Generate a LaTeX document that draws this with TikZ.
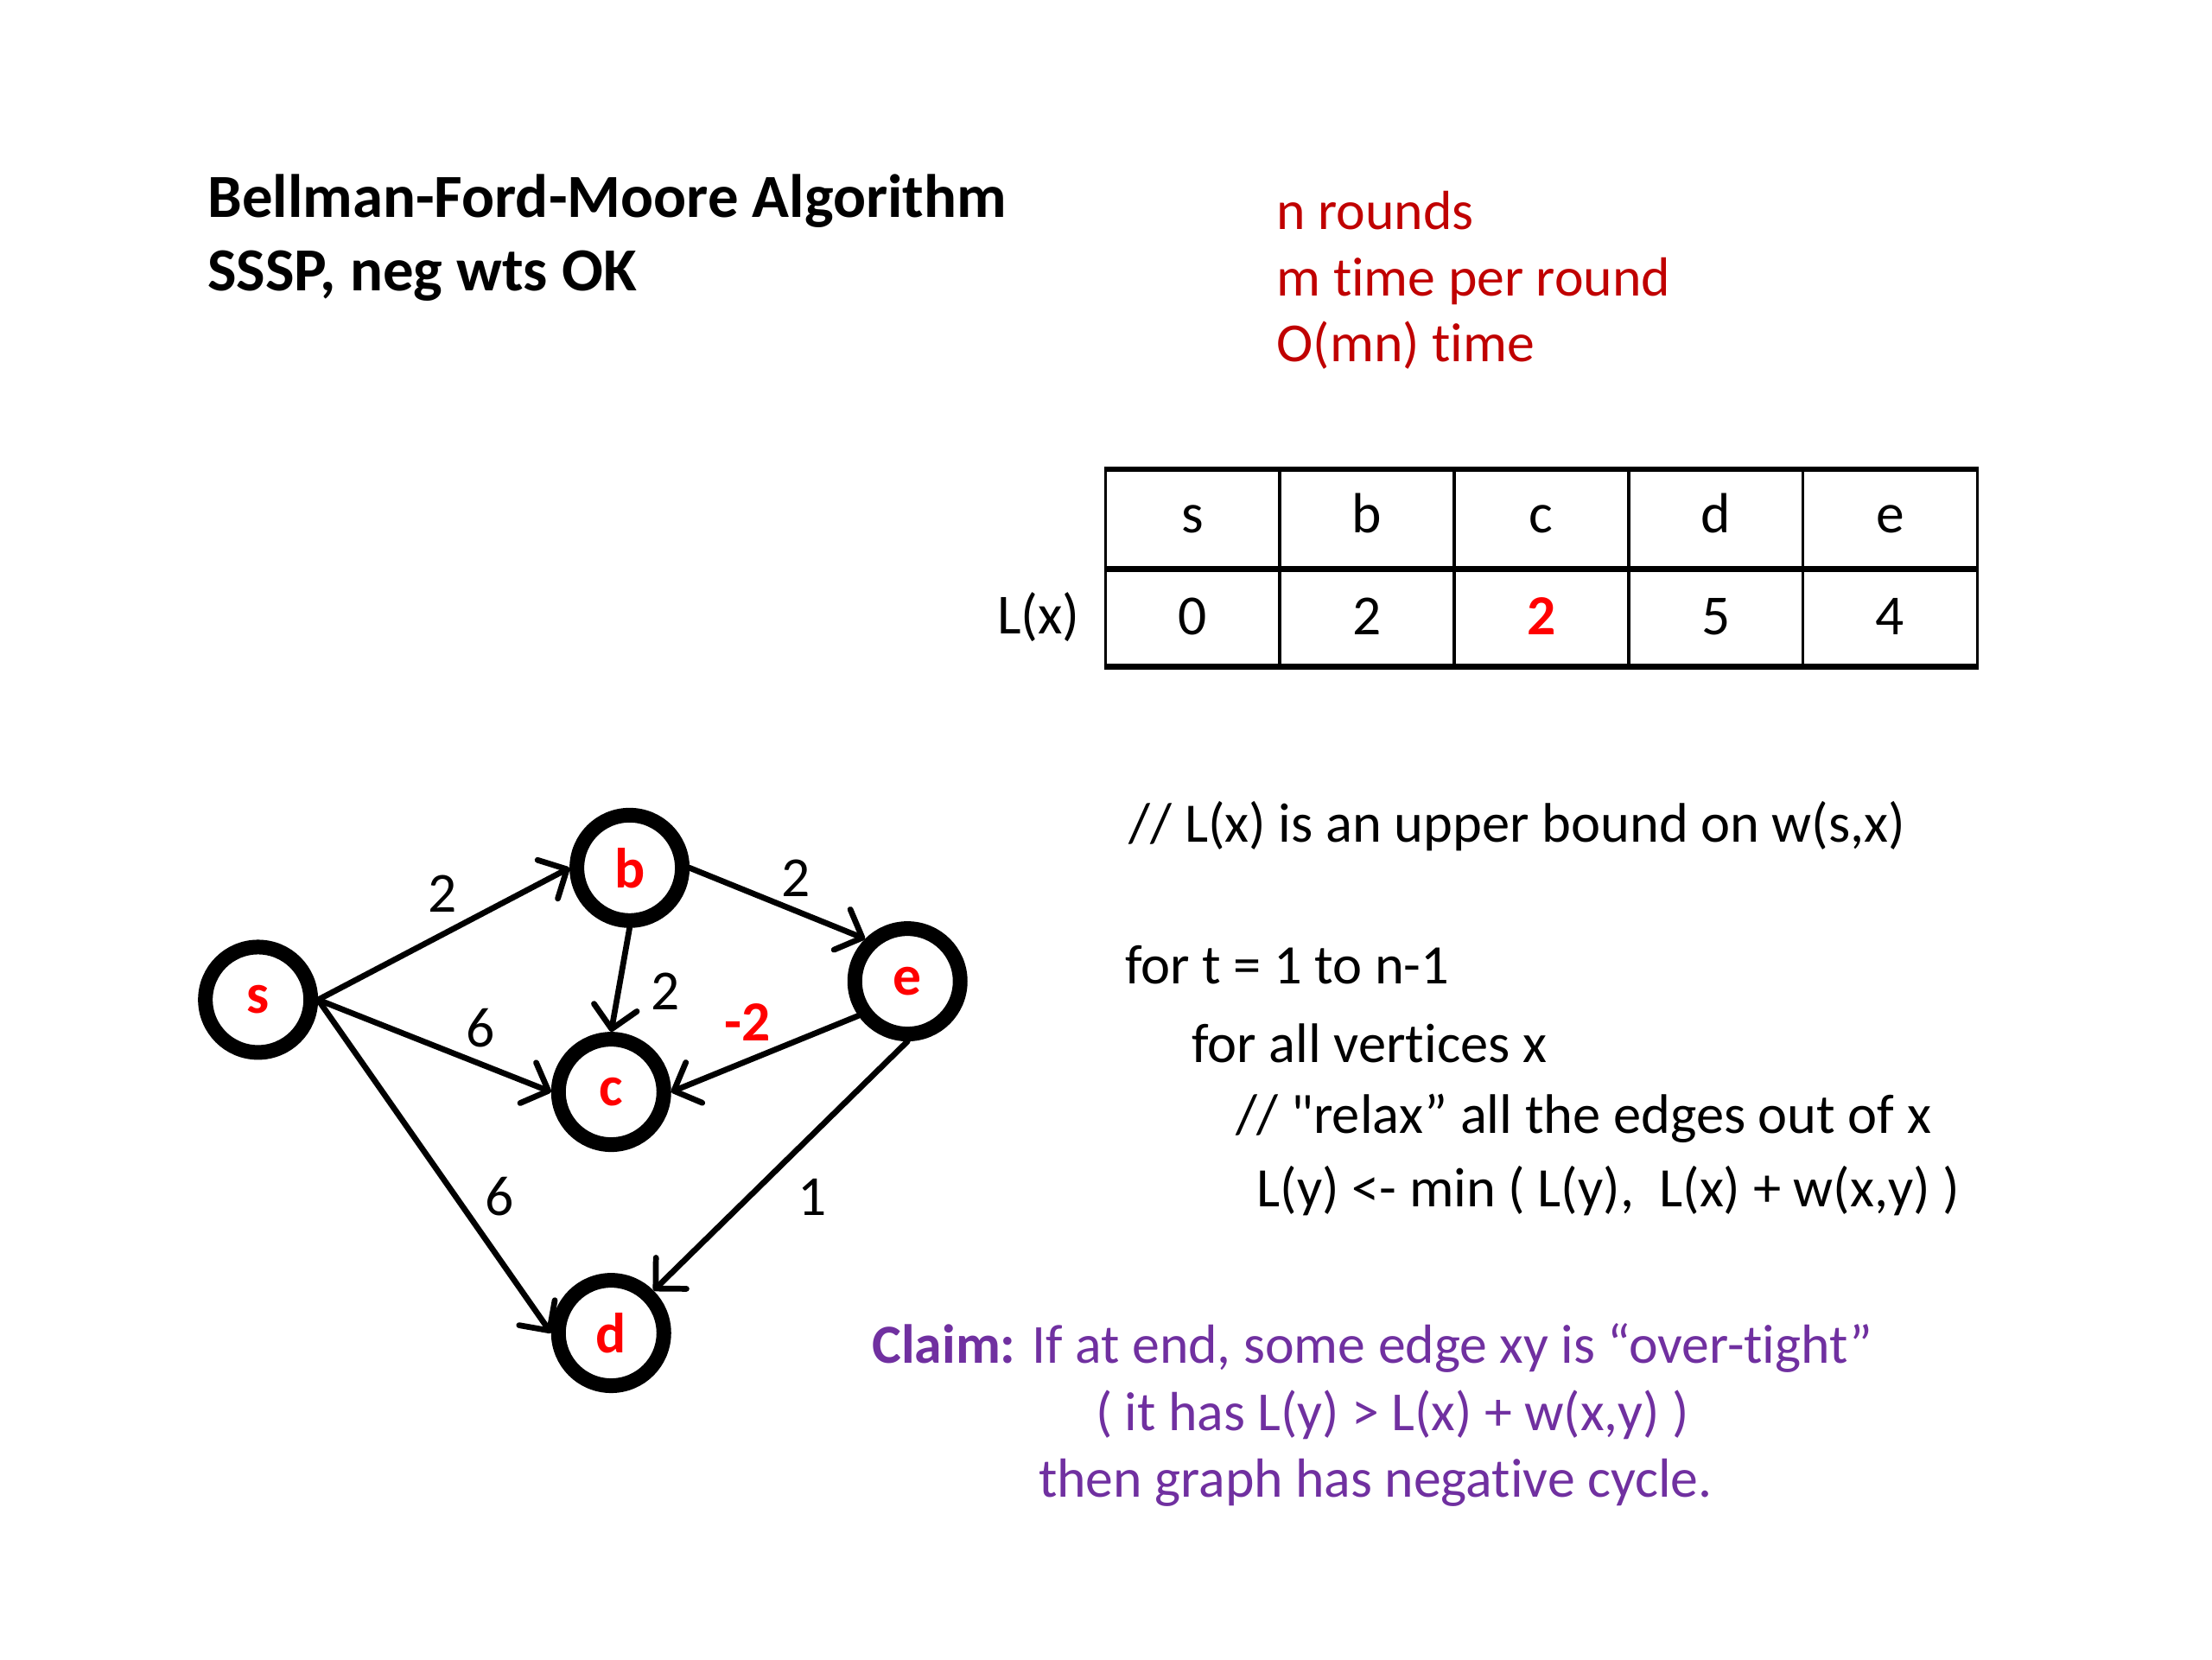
\documentclass[tikz,border=0pt]{standalone}
\usepackage{fontspec}
\setmainfont{Carlito}[Ligatures={CommonOff,TeXOff}]
\usetikzlibrary{arrows.meta}
\definecolor{nodered}{HTML}{FF0000}
\definecolor{darkred}{HTML}{C00000}
\definecolor{claimpurple}{HTML}{7030A0}
\tikzset{
  vertex/.style={circle, draw=black, line width=4.8pt, minimum size=1.21cm, inner sep=0pt,
    font=\fontsize{18.5}{22}\selectfont\bfseries, text=nodered},
  edge/.style={line width=1.9pt, line cap=round,
    -{Straight Barb[length=2.5mm,width=5mm,line width=1.9pt,round]}},
  wlabel/.style={font=\fontsize{18.5}{22}\selectfont, inner sep=0pt},
  txt/.style={inner sep=0pt, anchor=base west},
  cellbase/.style={draw, line width=1pt, minimum width=2.0cm, minimum height=1.12cm, inner sep=0pt,
    font=\fontsize{18.5}{22}\selectfont, text depth=0pt},
  hcell/.style={cellbase, text height=0.31cm},
  vcell/.style={cellbase, text height=0.42cm},
  code/.style={txt, font=\fontsize{18.2}{22}\selectfont},
  note/.style={txt, font=\fontsize{18}{22}\selectfont, text=darkred},
  claimtxt/.style={inner sep=0pt, anchor=base, text=claimpurple, font=\fontsize{18}{22}\selectfont},
}
\begin{document}
\begin{tikzpicture}[x=0.016282cm, y=-0.016282cm]
\useasboundingbox (0,0) rectangle (1560,1170);
% title
\node[txt, font=\fontsize{20}{24}\selectfont\bfseries] (title1) at (146,153) {Bellman-Ford-Moore Algorithm};
\node[txt, font=\fontsize{20}{24}\selectfont\bfseries] (title2) at (146,205) {SSSP, neg wts OK};
% red notes
\node[note] (r1) at (900,162) {n rounds};
\node[note] (r2) at (900,209) {m time per round};
\node[note] (r3) at (900,255) {O(mn) time};
% table
\node[hcell] (h1) at (841,366) {s};
\node[hcell] (h2) at (964,366) {b};
\node[hcell] (h3) at (1087,366) {c};
\node[hcell] (h4) at (1210,366) {d};
\node[hcell] (h5) at (1333,366) {e};
\node[vcell] (v1) at (841,434.8) {0};
\node[vcell] (v2) at (964,434.8) {2};
\node[vcell, text=nodered, font=\fontsize{18.5}{22}\selectfont\bfseries] (v3) at (1087,434.8) {2};
\node[vcell] (v4) at (1210,434.8) {5};
\node[vcell] (v5) at (1333,434.8) {4};
\draw[line width=1.6pt] (h1.north west) -- (h5.north east);
\draw[line width=1.6pt] (h1.south west) -- (h5.south east);
\draw[line width=1.6pt] (v1.south west) -- (v5.south east);
\node[inner sep=0pt, anchor=base east, font=\fontsize{18.5}{22}\selectfont] (lx) at (762,447) {L(x)};
% graph
\node[vertex] (s) at (182,705) {s};
\node[vertex] (b) at (444,612) {b};
\node[vertex] (c) at (431,770) {c};
\node[vertex] (e) at (640,692) {e};
\node[vertex] (d) at (431,940) {d};
\draw[edge] (s.east) -- (b.west);
\draw[edge] (s.east) -- (c.west);
\draw[edge] (s.east) -- (d.west);
\draw[edge] (b.south) -- (c.north);
\draw[edge] (b.east) -- (e.135);
\draw[edge] (e.215) -- (c.east);
\draw[edge] (e.south) -- (d.45);
\node[wlabel] (lsb) at (312,630) {2};
\node[wlabel] (lsc) at (339,725) {6};
\node[wlabel] (lsd) at (352,844) {6};
\node[wlabel] (lbc) at (469,699) {2};
\node[wlabel] (lbe) at (561,619) {2};
\node[wlabel, text=nodered, font=\fontsize{18.5}{22}\selectfont\bfseries] (lec) at (527,721) {-2};
\node[wlabel] (led) at (573,844) {1};
% pseudo code
\node[code] (p1) at (796,594) {// L(x) is an upper bound on w(s,x)};
\node[code] (p2) at (793,694) {for t = 1 to n-1};
\node[code] (p3) at (840,749) {for all vertices x};
\node[code] (p4) at (871,799) {// "relax” all the edges out of x};
\node[code] (p5) at (886,851) {L(y) <- min ( L(y),\ \ L(x) + w(x,y) )};
% claim
\node[claimtxt] (c1) at (968,961) {\textbf{Claim:} If at end, some edge xy is “over-tight”};
\node[claimtxt] (c2) at (982,1009) {( it has L(y) > L(x) + w(x,y) )};
\node[claimtxt] (c3) at (970,1056) {then graph has negative cycle.};
\end{tikzpicture}
\end{document}
